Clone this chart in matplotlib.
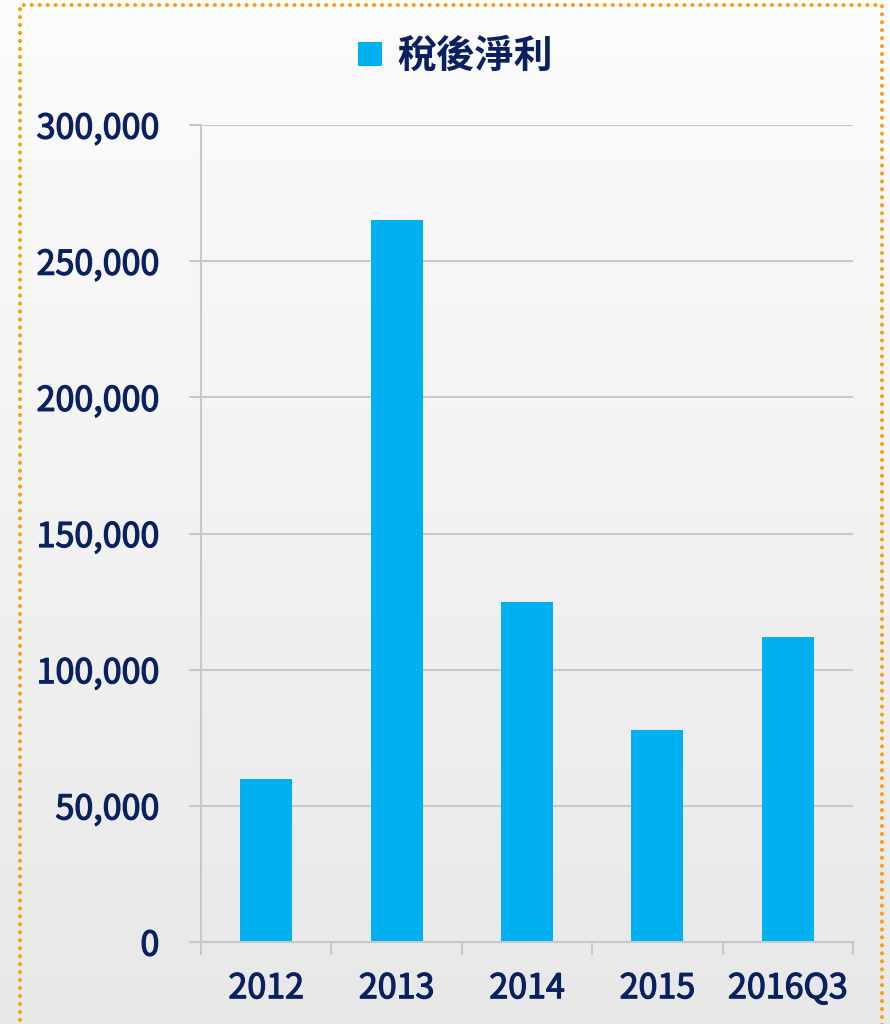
import numpy as np
import matplotlib.pyplot as plt
import matplotlib.patheffects as pe
from matplotlib.patches import Rectangle, Patch

plt.rcParams['font.family'] = ['Noto Sans CJK TC', 'DejaVu Sans']

categories = ['2012', '2013', '2014', '2015', '2016Q3']
net_income = [60000, 265000, 125000, 78000, 112000]
series_name = '稅後淨利'
y_ticks = [0, 50000, 100000, 150000, 200000, 250000, 300000]

text_color = '#0A2160'
bar_color = '#00B0F0'
grid_color = '#C8C8C8'

fig = plt.figure(figsize=(8.9, 10.24), dpi=100)

# gradient background
bg = fig.add_axes([0, 0, 1, 1], zorder=-10)
grad = np.linspace(0, 1, 256).reshape(-1, 1)
bg.imshow(grad, aspect='auto', cmap=plt.matplotlib.colors.LinearSegmentedColormap.from_list(
    'bg', ['#FCFCFC', '#E8E8E8']), extent=[0, 1, 0, 1], origin='upper')
bg.set_axis_off()

# dotted orange frame
frame = Rectangle((20 / 890, -0.01), 862 / 890, 1 - 5 / 1024 + 0.01,
                  transform=fig.transFigure, fill=False, edgecolor='#F7A11A',
                  linewidth=3, linestyle=(0, (0.01, 1.9)), capstyle='round',
                  zorder=5)
fig.patches.append(frame)

ax = fig.add_axes([201 / 890, 1 - 942 / 1024, 652 / 890, 817 / 1024])
ax.patch.set_alpha(0)
x = np.arange(len(categories))
ax.bar(x, net_income, width=0.4, color=bar_color, zorder=3)

ax.set_xlim(-0.5, len(categories) - 0.5)
ax.set_ylim(0, 300000)
ax.set_yticks(y_ticks)
ax.set_yticklabels([f'{v:,}' for v in y_ticks])
ax.set_xticks(x)
ax.set_xticklabels(categories)
ax.set_xticks(np.arange(-0.5, len(categories)), minor=True)

ax.grid(axis='y', color=grid_color, linewidth=1.5, zorder=0)
for side in ['top', 'right']:
    ax.spines[side].set_visible(False)
for side in ['left', 'bottom']:
    ax.spines[side].set_color(grid_color)
    ax.spines[side].set_linewidth(1.5)
    ax.spines[side].set_zorder(4)

ax.tick_params(axis='y', length=9, width=1.5, color=grid_color, pad=21,
               labelsize=24.5, labelcolor=text_color)
ax.tick_params(axis='x', which='major', length=0, pad=21,
               labelsize=24.5, labelcolor=text_color)
ax.tick_params(axis='x', which='minor', length=9, width=1.5, color=grid_color)

# thicken the tick labels a little (medium weight look)
for lab in ax.get_xticklabels() + ax.get_yticklabels():
    lab.set_path_effects([pe.withStroke(linewidth=0.9, foreground=text_color)])

handle = Patch(facecolor=bar_color, edgecolor='none', label=series_name)
fig.legend(handles=[handle], loc='center', bbox_to_anchor=(0.512, 0.945),
           frameon=False, prop={'size': 28, 'weight': 'bold'},
           labelcolor=text_color, handlelength=0.6, handleheight=0.6,
           handletextpad=0.4)

fig.savefig('out.png', dpi=100)
